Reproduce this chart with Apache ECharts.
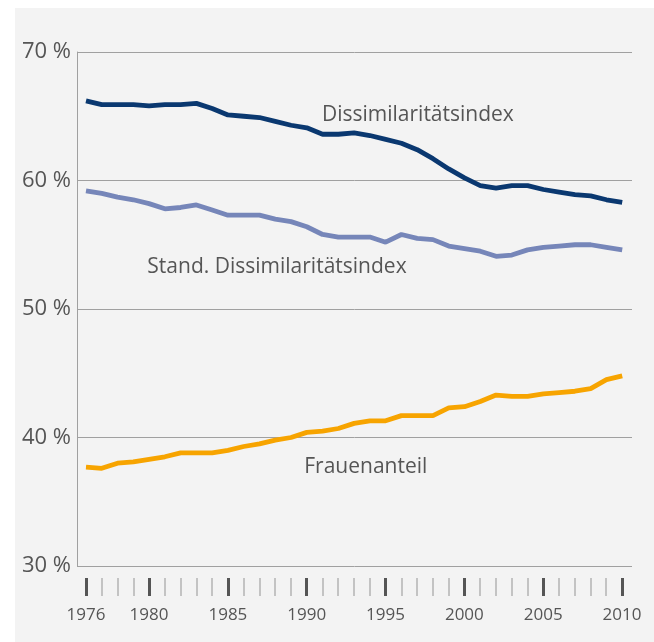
<!DOCTYPE html>
<html>
<head>
<meta charset="utf-8">
<script src="https://cdn.jsdelivr.net/npm/echarts@6/dist/echarts.min.js"></script>
<style>
  html, body { margin: 0; padding: 0; background: #fff; }
  #main { width: 654px; height: 642px; }
</style>
</head>
<body>
<div id="main"></div>
<script>
// Jahre 1976 - 2010
const years = [];
for (let y = 1976; y <= 2010; y++) years.push(y);

// Dissimilaritätsindex
const dissimilarity = [66.2, 65.9, 65.9, 65.9, 65.8, 65.9, 65.9, 66.0, 65.6, 65.1,
  65.0, 64.9, 64.6, 64.3, 64.1, 63.6, 63.6, 63.7, 63.5, 63.2,
  62.9, 62.4, 61.7, 60.9, 60.2, 59.6, 59.4, 59.6, 59.6, 59.3,
  59.1, 58.9, 58.8, 58.5, 58.3];

// Stand. Dissimilaritätsindex
const standDissimilarity = [59.2, 59.0, 58.7, 58.5, 58.2, 57.8, 57.9, 58.1, 57.7, 57.3,
  57.3, 57.3, 57.0, 56.8, 56.4, 55.8, 55.6, 55.6, 55.6, 55.2,
  55.8, 55.5, 55.4, 54.9, 54.7, 54.5, 54.1, 54.2, 54.6, 54.8,
  54.9, 55.0, 55.0, 54.8, 54.6];

// Frauenanteil
const womenShare = [37.7, 37.6, 38.0, 38.1, 38.3, 38.5, 38.8, 38.8, 38.8, 39.0,
  39.3, 39.5, 39.8, 40.0, 40.4, 40.5, 40.7, 41.1, 41.3, 41.3,
  41.7, 41.7, 41.7, 42.3, 42.4, 42.8, 43.3, 43.2, 43.2, 43.4,
  43.5, 43.6, 43.8, 44.5, 44.8];

const majorYears = [1976, 1980, 1985, 1990, 1995, 2000, 2005, 2010];
const yTicks = [30, 40, 50, 60, 70];

const textColor = '#555';
const gridColor = '#a0a0a0';
const fontFamily = '"Open Sans", sans-serif';

const chart = echarts.init(document.getElementById('main'));

function seriesLabel(text, coord) {
  return {
    symbol: 'circle',
    symbolSize: 0,
    silent: true,
    label: {
      show: true,
      position: 'right',
      distance: 0,
      formatter: text,
      color: textColor,
      fontSize: 21,
      fontFamily: fontFamily
    },
    data: [{ coord: coord }]
  };
}

const isMajor = (i, v) => majorYears.indexOf(Number(v)) >= 0;

const option = {
  animation: false,
  backgroundColor: '#fff',
  graphic: [{
    type: 'rect',
    z: -10,
    silent: true,
    shape: { x: 15, y: 8, width: 639, height: 634 },
    style: { fill: '#f3f3f3' }
  }],
  grid: [
    { left: 77, right: 22, top: 52, bottom: 76 },
    { left: 86, right: 32, top: 570, bottom: 64 }
  ],
  xAxis: [
    {
      gridIndex: 0,
      type: 'value',
      min: 1975.43,
      max: 2010.62,
      show: false
    },
    {
      // kleine Striche, jedes Jahr
      gridIndex: 1,
      type: 'category',
      data: years,
      boundaryGap: false,
      position: 'bottom',
      axisLine: { show: false },
      axisTick: { show: true, interval: 0, length: 18, lineStyle: { color: '#b4b4b4', width: 1.5 } },
      axisLabel: { show: false, interval: 0 }
    },
    {
      // große Striche
      gridIndex: 1,
      type: 'category',
      data: years,
      boundaryGap: false,
      position: 'bottom',
      axisLine: { show: false },
      axisTick: {
        show: true,
        length: 18,
        interval: isMajor,
        lineStyle: { color: '#555', width: 3 }
      },
      axisLabel: {
        show: true,
        interval: isMajor,
        margin: 29,
        color: textColor,
        fontSize: 17,
        fontFamily: fontFamily
      }
    }
  ],
  yAxis: [
    {
      gridIndex: 0,
      type: 'value',
      min: yTicks[0],
      max: yTicks[yTicks.length - 1],
      interval: 10,
      axisLine: { show: true, lineStyle: { color: gridColor, width: 1 } },
      axisTick: { show: false },
      splitLine: { show: true, lineStyle: { color: gridColor, width: 1 } },
      axisLabel: {
        formatter: '{value} %',
        margin: 6,
        color: textColor,
        fontSize: 22,
        fontFamily: fontFamily
      }
    },
    { gridIndex: 1, type: 'value', show: false }
  ],
  series: [
    {
      name: 'Dissimilaritätsindex',
      type: 'line',
      xAxisIndex: 0,
      yAxisIndex: 0,
      symbol: 'none',
      lineStyle: { color: '#0a3870', width: 4.8 },
      data: years.map((y, i) => [y, dissimilarity[i]]),
      markPoint: seriesLabel('Dissimilaritätsindex', [1990.96, 65.1])
    },
    {
      name: 'Stand. Dissimilaritätsindex',
      type: 'line',
      xAxisIndex: 0,
      yAxisIndex: 0,
      symbol: 'none',
      lineStyle: { color: '#7686b9', width: 4.8 },
      data: years.map((y, i) => [y, standDissimilarity[i]]),
      markPoint: seriesLabel('Stand. Dissimilaritätsindex', [1979.89, 53.3])
    },
    {
      name: 'Frauenanteil',
      type: 'line',
      xAxisIndex: 0,
      yAxisIndex: 0,
      symbol: 'none',
      lineStyle: { color: '#f7a400', width: 4.8 },
      data: years.map((y, i) => [y, womenShare[i]]),
      markPoint: seriesLabel('Frauenanteil', [1989.84, 37.7])
    }
  ]
};

chart.setOption(option);
</script>
</body>
</html>
